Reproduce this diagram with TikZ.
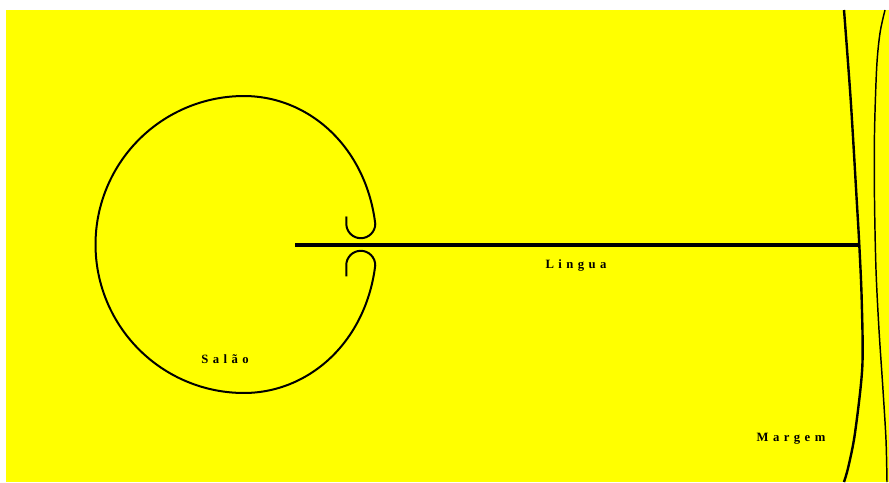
\documentclass[tikz,border=0pt]{standalone}
\usepackage{fontspec}
\newfontfamily\rotfont[LetterSpace=35]{Liberation Serif}
\definecolor{fundo}{RGB}{255,255,0}

\begin{document}
\begin{tikzpicture}[x=0.75pt, y=-0.75pt,
  rotulo/.style={font=\rotfont\bfseries\fontsize{9.5}{11}\selectfont, inner sep=0pt},
  contorno/.style={line width=1.5pt, black, line join=round}]

  % --- 1. fundo ---
  \useasboundingbox (0,0) rectangle (889,482);
  \fill[fundo] (6,10) rectangle (889,482);

  % --- 2. salao (com os dois ganchos) ---
  \pgfmathsetmacro{\cx}{244}
  \pgfmathsetmacro{\cy}{244.5}
  \draw[contorno] (346.5,216.5) -- (346.3,223.7)
    arc[start angle=180, end angle=0, radius=14.5]
    -- plot[domain=9:351, samples=120, smooth]
      ({\cx + (148.5 - 16*max(cos(\x),0)*max(cos(\x),0))*cos(\x)},
       {\cy - (148.5 - 16*max(cos(\x),0)*max(cos(\x),0))*sin(\x)})
    arc[start angle=0, end angle=-180, radius=14.5] -- ++(0,11);

  % --- 3. lingua ---
  \coordinate (lingua-ini) at (295,245);
  \coordinate (lingua-fim) at (859,245);
  \draw[line width=2.5pt] (lingua-ini) -- (lingua-fim);

  % --- 4. margem ---
  \draw[line width=1.8pt] plot[smooth] coordinates
    {(844,10) (850.7,100) (856.7,200) (859.3,245) (861.7,300) (862.3,367) (855,433) (848.3,467) (844,482)};
  \draw[line width=1.1pt] plot[smooth] coordinates
    {(885,10) (880,33) (876.7,67) (874.5,133) (874.5,200) (876,270) (879,330) (883,390) (886,440) (887,482)};

  % --- 5. rotulos ---
  \node[rotulo] (salao) at (225,359) {Salão};
  \node[rotulo] (lingua) at (576,265) {Lingua};
  \node[rotulo] (margem) at (791,439) {Margem};

\end{tikzpicture}
\end{document}
